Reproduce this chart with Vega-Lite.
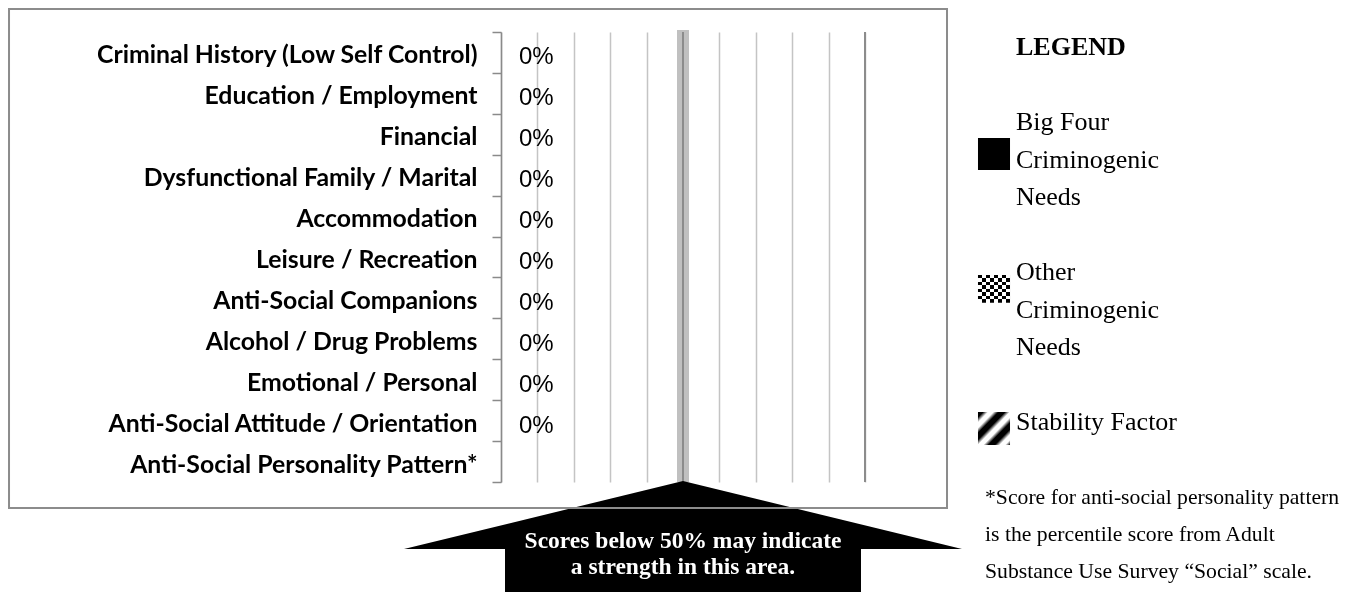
{
  "$schema": "https://vega.github.io/schema/vega-lite/v6.json",
  "width": 364,
  "height": 450,
  "autosize": {"type": "none"},
  "padding": {"left": 501, "top": 32, "right": 486, "bottom": 110},
  "background": "white",
  "config": {
    "view": {"stroke": null},
    "font": "Liberation Serif"
  },
  "datasets": {
    "needs": [
      {"need": "Criminal History (Low Self Control)", "type": "Big Four Criminogenic Needs", "score": 0},
      {"need": "Education / Employment", "type": "Other Criminogenic Needs", "score": 0},
      {"need": "Financial", "type": "Other Criminogenic Needs", "score": 0},
      {"need": "Dysfunctional Family / Marital\u00a0", "type": "Other Criminogenic Needs", "score": 0},
      {"need": "Accommodation", "type": "Stability Factor", "score": 0},
      {"need": "Leisure / Recreation", "type": "Other Criminogenic Needs", "score": 0},
      {"need": "Anti-Social Companions", "type": "Big Four Criminogenic Needs", "score": 0},
      {"need": "Alcohol / Drug Problems", "type": "Other Criminogenic Needs", "score": 0},
      {"need": "Emotional / Personal", "type": "Other Criminogenic Needs", "score": 0},
      {"need": "Anti-Social Attitude / Orientation", "type": "Big Four Criminogenic Needs", "score": 0},
      {"need": "Anti-Social Personality Pattern*", "type": "Big Four Criminogenic Needs", "score": null}
    ]
  },
  "layer": [
    {
      "data": {"name": "needs"},
      "encoding": {
        "y": {
          "field": "need", "type": "nominal", "sort": null,
          "scale": {
            "domain": ["Criminal History (Low Self Control)", "Education / Employment", "Financial", "Dysfunctional Family / Marital\u00a0", "Accommodation", "Leisure / Recreation", "Anti-Social Companions", "Alcohol / Drug Problems", "Emotional / Personal", "Anti-Social Attitude / Orientation", "Anti-Social Personality Pattern*"],
            "paddingInner": 0, "paddingOuter": 0
          },
          "axis": {
            "title": null, "tickBand": "extent", "grid": false,
            "labelFont": "Lato", "labelFontWeight": "bold", "labelFontSize": 24.8,
            "labelColor": "#000000", "labelPadding": 15, "labelLimit": 700, "labelOffset": 3.5,
            "tickSize": 9, "tickColor": "#8a8a8a", "tickWidth": 1.5,
            "domainColor": "#8a8a8a", "domainWidth": 1.5
          }
        },
        "x": {
          "field": "score", "type": "quantitative",
          "scale": {"domain": [0, 1], "nice": false, "zero": false},
          "axis": {
            "title": null, "labels": false, "ticks": false, "domain": false,
            "grid": true, "gridColor": "#c4c4c4", "gridWidth": 1.5, "gridOpacity": 1,
            "tickCount": 11,
            "values": [0, 0.1, 0.2, 0.3, 0.4, 0.5, 0.6, 0.7, 0.8, 0.9, 1]
          }
        }
      },
      "layer": [
        {
          "mark": {"type": "bar", "height": {"band": 0.6}},
          "encoding": {
            "color": {
              "field": "type", "type": "nominal", "legend": null,
              "scale": {"domain": ["Big Four Criminogenic Needs", "Other Criminogenic Needs", "Stability Factor"], "range": ["#000000", "#555555", "#999999"]}
            }
          }
        },
        {
          "transform": [{"filter": "datum.score != null"}],
          "mark": {"type": "text", "align": "left", "baseline": "middle", "dx": 18, "dy": 5, "font": "Liberation Sans", "fontSize": 24, "color": "#000000"},
          "encoding": {"text": {"field": "score", "type": "quantitative", "format": ".0%"}}
        }
      ]
    },
    {
      "data": {"values": [{}]},
      "layer": [
        {
          "mark": {"type": "rule", "color": "#8c8c8c", "strokeWidth": 2},
          "encoding": {
            "x": {"datum": 1, "type": "quantitative", "scale": {"domain": [0, 1], "nice": false, "zero": false}},
            "y": {"datum": 0, "type": "quantitative", "scale": {"domain": [0, 11], "reverse": true, "nice": false, "zero": false}, "axis": null},
            "y2": {"datum": 11}
          }
        },
        {
          "mark": {"type": "rule", "color": "#c0c0c0", "strokeWidth": 12},
          "encoding": {
            "x": {"datum": 0.5, "type": "quantitative", "scale": {"domain": [0, 1], "nice": false, "zero": false}},
            "y": {"datum": -0.05, "type": "quantitative", "scale": {"domain": [0, 11], "reverse": true, "nice": false, "zero": false}, "axis": null},
            "y2": {"datum": 11}
          }
        },
        {
          "mark": {"type": "rule", "color": "#8c8c8c", "strokeWidth": 2},
          "encoding": {
            "x": {"datum": 0.5, "type": "quantitative", "scale": {"domain": [0, 1], "nice": false, "zero": false}},
            "y": {"datum": 0, "type": "quantitative", "scale": {"domain": [0, 11], "reverse": true, "nice": false, "zero": false}, "axis": null},
            "y2": {"datum": 11}
          }
        },
        {
          "mark": {"type": "point", "shape": "M-1,0.2437L0,0L1,0.2437Z", "size": 311364, "filled": true, "fill": "#000000", "stroke": null, "opacity": 1},
          "encoding": {
            "x": {"datum": 0.5, "type": "quantitative", "scale": {"domain": [0, 1], "nice": false, "zero": false}},
            "y": {"datum": 10.976, "type": "quantitative", "scale": {"domain": [0, 11], "reverse": true, "nice": false, "zero": false}, "axis": null}
          }
        },
        {
          "mark": {"type": "rect", "fill": "#000000"},
          "encoding": {
            "x": {"datum": 0.011, "type": "quantitative", "scale": {"domain": [0, 1], "nice": false, "zero": false}},
            "x2": {"datum": 0.989},
            "y": {"datum": 12.62, "type": "quantitative", "scale": {"domain": [0, 11], "reverse": true, "nice": false, "zero": false}, "axis": null},
            "y2": {"datum": 14}
          }
        },
        {
          "mark": {"type": "text", "text": ["Scores below 50% may indicate", "a strength in this area."], "lineHeight": 26, "align": "center", "baseline": "middle", "font": "Liberation Serif", "fontWeight": "bold", "fontSize": 23.5, "color": "#ffffff"},
          "encoding": {
            "x": {"datum": 0.5, "type": "quantitative", "scale": {"domain": [0, 1], "nice": false, "zero": false}},
            "y": {"datum": 12.44, "type": "quantitative", "scale": {"domain": [0, 11], "reverse": true, "nice": false, "zero": false}, "axis": null}
          }
        },
        {
          "mark": {"type": "text", "text": "LEGEND", "align": "left", "baseline": "middle", "font": "Liberation Serif", "fontWeight": "bold", "fontSize": 26, "color": "#000000"},
          "encoding": {
            "x": {"datum": 1.4148, "type": "quantitative", "scale": {"domain": [0, 1], "nice": false, "zero": false}},
            "y": {"datum": 0.367, "type": "quantitative", "scale": {"domain": [0, 11], "reverse": true, "nice": false, "zero": false}, "axis": null}
          }
        },
        {
          "mark": {"type": "text", "text": ["Big Four", "Criminogenic", "Needs"], "lineHeight": 37.5, "align": "left", "baseline": "middle", "font": "Liberation Serif", "fontSize": 26, "color": "#000000"},
          "encoding": {
            "x": {"datum": 1.4148, "type": "quantitative", "scale": {"domain": [0, 1], "nice": false, "zero": false}},
            "y": {"datum": 2.2, "type": "quantitative", "scale": {"domain": [0, 11], "reverse": true, "nice": false, "zero": false}, "axis": null}
          }
        },
        {
          "mark": {"type": "rect", "fill": "#000000"},
          "encoding": {
            "x": {"datum": 1.3104, "type": "quantitative", "scale": {"domain": [0, 1], "nice": false, "zero": false}},
            "x2": {"datum": 1.3984},
            "y": {"datum": 2.591, "type": "quantitative", "scale": {"domain": [0, 11], "reverse": true, "nice": false, "zero": false}, "axis": null},
            "y2": {"datum": 3.373}
          }
        },
        {
          "mark": {"type": "text", "text": ["Other", "Criminogenic", "Needs"], "lineHeight": 37.5, "align": "left", "baseline": "middle", "font": "Liberation Serif", "fontSize": 26, "color": "#000000"},
          "encoding": {
            "x": {"datum": 1.4148, "type": "quantitative", "scale": {"domain": [0, 1], "nice": false, "zero": false}},
            "y": {"datum": 5.867, "type": "quantitative", "scale": {"domain": [0, 11], "reverse": true, "nice": false, "zero": false}, "axis": null}
          }
        },
        {
          "mark": {"type": "rect", "fill": {"gradient": "linear", "x1": 0, "y1": 0, "x2": 0, "y2": 1, "stops": [
            {"offset": 0, "color": "#000000"}, {"offset": 0.125, "color": "#000000"},
            {"offset": 0.125, "color": "#ffffff"}, {"offset": 0.25, "color": "#ffffff"},
            {"offset": 0.25, "color": "#000000"}, {"offset": 0.375, "color": "#000000"},
            {"offset": 0.375, "color": "#ffffff"}, {"offset": 0.5, "color": "#ffffff"},
            {"offset": 0.5, "color": "#000000"}, {"offset": 0.625, "color": "#000000"},
            {"offset": 0.625, "color": "#ffffff"}, {"offset": 0.75, "color": "#ffffff"},
            {"offset": 0.75, "color": "#000000"}, {"offset": 0.875, "color": "#000000"},
            {"offset": 0.875, "color": "#ffffff"}, {"offset": 1, "color": "#ffffff"}]}},
          "encoding": {
            "x": {"datum": 1.3104, "type": "quantitative", "scale": {"domain": [0, 1], "nice": false, "zero": false}},
            "x2": {"datum": 1.3984},
            "y": {"datum": 5.94, "type": "quantitative", "scale": {"domain": [0, 11], "reverse": true, "nice": false, "zero": false}, "axis": null},
            "y2": {"datum": 6.62}
          }
        },
        {
          "mark": {"type": "rect", "blend": "difference", "fill": {"gradient": "linear", "x1": 0, "y1": 0, "x2": 1, "y2": 0, "stops": [
            {"offset": 0, "color": "#000000"}, {"offset": 0.125, "color": "#000000"},
            {"offset": 0.125, "color": "#ffffff"}, {"offset": 0.25, "color": "#ffffff"},
            {"offset": 0.25, "color": "#000000"}, {"offset": 0.375, "color": "#000000"},
            {"offset": 0.375, "color": "#ffffff"}, {"offset": 0.5, "color": "#ffffff"},
            {"offset": 0.5, "color": "#000000"}, {"offset": 0.625, "color": "#000000"},
            {"offset": 0.625, "color": "#ffffff"}, {"offset": 0.75, "color": "#ffffff"},
            {"offset": 0.75, "color": "#000000"}, {"offset": 0.875, "color": "#000000"},
            {"offset": 0.875, "color": "#ffffff"}, {"offset": 1, "color": "#ffffff"}]}},
          "encoding": {
            "x": {"datum": 1.3104, "type": "quantitative", "scale": {"domain": [0, 1], "nice": false, "zero": false}},
            "x2": {"datum": 1.3984},
            "y": {"datum": 5.94, "type": "quantitative", "scale": {"domain": [0, 11], "reverse": true, "nice": false, "zero": false}, "axis": null},
            "y2": {"datum": 6.62}
          }
        },
        {
          "mark": {"type": "text", "text": "Stability Factor", "align": "left", "baseline": "middle", "font": "Liberation Serif", "fontSize": 26, "color": "#000000"},
          "encoding": {
            "x": {"datum": 1.4148, "type": "quantitative", "scale": {"domain": [0, 1], "nice": false, "zero": false}},
            "y": {"datum": 9.533, "type": "quantitative", "scale": {"domain": [0, 11], "reverse": true, "nice": false, "zero": false}, "axis": null}
          }
        },
        {
          "mark": {"type": "rect", "fill": {"gradient": "linear", "x1": 0, "y1": 0, "x2": 1, "y2": 1, "stops": [
            {"offset": 0, "color": "#000000"}, {"offset": 0.08, "color": "#000000"},
            {"offset": 0.16, "color": "#ffffff"}, {"offset": 0.24, "color": "#ffffff"},
            {"offset": 0.32, "color": "#000000"}, {"offset": 0.42, "color": "#000000"},
            {"offset": 0.5, "color": "#ffffff"}, {"offset": 0.58, "color": "#ffffff"},
            {"offset": 0.66, "color": "#000000"}, {"offset": 0.76, "color": "#000000"},
            {"offset": 0.84, "color": "#ffffff"}, {"offset": 0.92, "color": "#ffffff"},
            {"offset": 1, "color": "#000000"}]}},
          "encoding": {
            "x": {"datum": 1.3104, "type": "quantitative", "scale": {"domain": [0, 1], "nice": false, "zero": false}},
            "x2": {"datum": 1.3984},
            "y": {"datum": 9.289, "type": "quantitative", "scale": {"domain": [0, 11], "reverse": true, "nice": false, "zero": false}, "axis": null},
            "y2": {"datum": 10.096}
          }
        },
        {
          "mark": {"type": "text", "text": ["*Score for anti-social personality pattern", "is the percentile score from Adult", "Substance Use Survey \u201cSocial\u201d scale."], "lineHeight": 37, "align": "left", "baseline": "middle", "font": "Liberation Serif", "fontSize": 21.7, "color": "#000000"},
          "encoding": {
            "x": {"datum": 1.3297, "type": "quantitative", "scale": {"domain": [0, 1], "nice": false, "zero": false}},
            "y": {"datum": 11.364, "type": "quantitative", "scale": {"domain": [0, 11], "reverse": true, "nice": false, "zero": false}, "axis": null}
          }
        },
        {
          "mark": {"type": "rect", "fill": null, "fillOpacity": 0, "stroke": "#8c8c8c", "strokeWidth": 2},
          "encoding": {
            "x": {"datum": -1.3516, "type": "quantitative", "scale": {"domain": [0, 1], "nice": false, "zero": false}},
            "x2": {"datum": 1.2253},
            "y": {"datum": -0.5622, "type": "quantitative", "scale": {"domain": [0, 11], "reverse": true, "nice": false, "zero": false}, "axis": null},
            "y2": {"datum": 11.6356}
          }
        }
      ]
    }
  ],
  "resolve": {"scale": {"y": "independent"}}
}
